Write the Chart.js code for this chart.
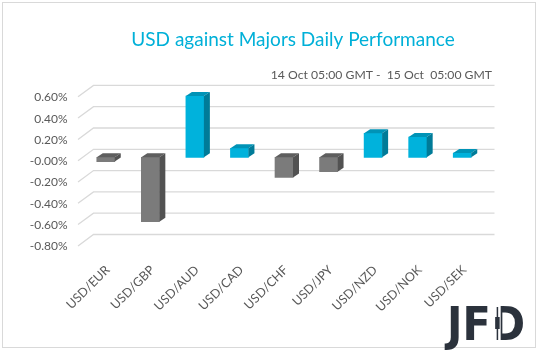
<!DOCTYPE html>
<html>
<head>
<meta charset="utf-8">
<script src="https://cdn.jsdelivr.net/npm/chart.js@4"></script>
<style>
  body { margin: 0; background: #fff; }
  #wrap { width: 538px; height: 351px; position: relative; }
</style>
</head>
<body>
<div id="wrap"><canvas id="chart" width="538" height="351"></canvas></div>
<script>
const pairs = ['USD/EUR', 'USD/GBP', 'USD/AUD', 'USD/CAD', 'USD/CHF', 'USD/JPY', 'USD/NZD', 'USD/NOK', 'USD/SEK'];
const changes = [-0.04, -0.605, 0.575, 0.085, -0.19, -0.135, 0.225, 0.19, 0.04];
const yMin = -0.8;
const yMax = 0.6;
const yStep = 0.2;

const titleText = 'USD against Majors Daily Performance';
const subtitleText = '14 Oct 05:00 GMT -  15 Oct  05:00 GMT';

const blue = {front: '#00b2dc', side: '#007b98', top: '#0093b6'};
const grey = {front: '#7b7b7b', side: '#525252', top: '#5e5e5e'};

// fake 3d: extrusion of bars and the back wall
const depth = {dx: 6, dy: -4};
const wall = {dx: 10, dy: -8, fx: -5.5, fy: 3.4};

const threeD = {
    id: 'threeD',
    beforeDatasetsDraw(chart) {
        const ctx = chart.ctx;
        const y = chart.scales.y;
        const area = chart.chartArea;
        ctx.save();
        ctx.strokeStyle = '#d9d9d9';
        ctx.lineWidth = 1.3;
        for (let v = yMin; v <= yMax + 1e-9; v += yStep) {
            const p = y.getPixelForValue(v);
            ctx.beginPath();
            ctx.moveTo(area.left + wall.fx, p + wall.fy);
            ctx.lineTo(area.left + wall.dx, p + wall.dy);
            ctx.lineTo(area.right + wall.dx, p + wall.dy);
            ctx.stroke();
        }
        ctx.restore();
    },
    afterDatasetsDraw(chart) {
        const ctx = chart.ctx;
        const meta = chart.getDatasetMeta(0);
        ctx.save();
        meta.data.forEach(function(bar, i) {
            const c = changes[i] >= 0 ? blue : grey;
            const l = bar.x - bar.width / 2;
            const r = bar.x + bar.width / 2;
            const top = Math.min(bar.y, bar.base);
            const bottom = Math.max(bar.y, bar.base);
            ctx.fillStyle = c.top;
            ctx.beginPath();
            ctx.moveTo(l, top);
            ctx.lineTo(l + depth.dx, top + depth.dy);
            ctx.lineTo(r + depth.dx, top + depth.dy);
            ctx.lineTo(r, top);
            ctx.closePath();
            ctx.fill();
            ctx.fillStyle = c.side;
            ctx.beginPath();
            ctx.moveTo(r, top);
            ctx.lineTo(r + depth.dx, top + depth.dy);
            ctx.lineTo(r + depth.dx, bottom + depth.dy);
            ctx.lineTo(r, bottom);
            ctx.closePath();
            ctx.fill();
        });
        ctx.restore();
    },
    afterDraw(chart) {
        const ctx = chart.ctx;
        ctx.save();
        // frame
        ctx.strokeStyle = '#d9d9d9';
        ctx.lineWidth = 1;
        ctx.strokeRect(2.5, 2.5, 533, 345);
        // titles
        ctx.fillStyle = '#00b0d8';
        ctx.font = '19px Lato';
        ctx.textAlign = 'center';
        ctx.textBaseline = 'alphabetic';
        ctx.fillText(titleText, 293, 46);
        ctx.fillStyle = '#595959';
        ctx.font = '12.2px Lato';
        ctx.textAlign = 'right';
        ctx.fillText(subtitleText, 492, 79);
        // logo
        ctx.fillStyle = '#2b323c';
        ctx.font = 'bold 46px "Liberation Sans Narrow", "DejaVu Sans Condensed", sans-serif';
        ctx.textAlign = 'left';
        const lx = 447;
        const base = 340;
        ctx.fillText('JFD', lx, base);
        const jf = ctx.measureText('JF').width;
        const sx = lx + jf + 3;
        ctx.fillStyle = '#ffffff';
        ctx.fillRect(sx, 305, 7, 38);
        ctx.fillStyle = '#2b323c';
        ctx.fillRect(sx + 3, 307, 1.5, 33);
        ctx.fillRect(sx + 1.5, 317, 4.5, 12);
        ctx.restore();
    }
};

new Chart(document.getElementById('chart'), {
    type: 'bar',
    data: {
        labels: pairs,
        datasets: [{
            data: changes,
            backgroundColor: changes.map(v => v >= 0 ? blue.front : grey.front),
            barThickness: 18,
            borderWidth: 0
        }]
    },
    options: {
        responsive: false,
        animation: false,
        devicePixelRatio: 1,
        layout: {padding: {top: 93.4, left: 0, right: 53.5, bottom: 0}},
        scales: {
            x: {
                grid: {display: false, drawTicks: false},
                border: {display: false},
                ticks: {
                    autoSkip: false,
                    minRotation: 45,
                    maxRotation: 45,
                    padding: 20,
                    labelOffset: 2,
                    color: '#595959',
                    font: {family: 'Lato', size: 12.5}
                },
                afterFit(scale) { scale.height = 108.5; }
            },
            y: {
                min: yMin,
                max: yMax,
                grid: {display: false, drawTicks: false},
                border: {display: false},
                ticks: {
                    stepSize: yStep,
                    padding: 16,
                    labelOffset: 4,
                    color: '#595959',
                    font: {family: 'Lato', size: 12},
                    callback: v => v.toFixed(2) + '%'
                },
                afterFit(scale) { scale.width = 83.5; }
            }
        },
        plugins: {
            legend: {display: false},
            tooltip: {enabled: false}
        }
    },
    plugins: [threeD]
});
</script>
</body>
</html>
